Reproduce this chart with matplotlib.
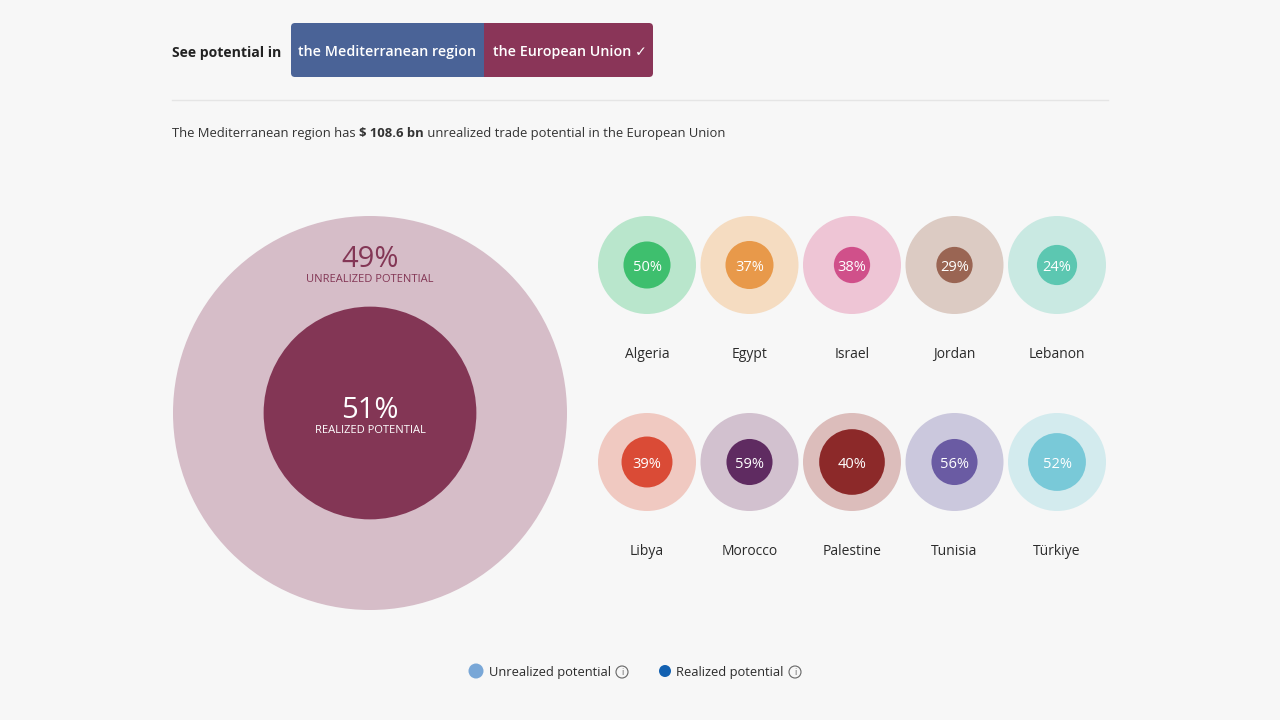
import matplotlib
matplotlib.use("Agg")
import matplotlib.pyplot as plt
from matplotlib.patches import Circle, FancyBboxPatch, Rectangle

plt.rcParams['font.family'] = ['Open Sans', 'DejaVu Sans']

# ---- data ----
total_unrealized_bn = 108.6
overall_unrealized_pct = 49
overall_realized_pct = 51
overall_realized_scale = 0.54

countries = ["Algeria", "Egypt", "Israel", "Jordan", "Lebanon",
             "Libya", "Morocco", "Palestine", "Tunisia", "Türkiye"]
realized_pct = [50, 37, 38, 29, 24, 39, 59, 40, 56, 52]
# relative size of realized circle vs. total circle (radius ratio)
realized_scale = [0.48, 0.49, 0.37, 0.37, 0.41, 0.52, 0.47, 0.67, 0.47, 0.59]
outer_colors = ["#b9e6cc", "#f5dcc1", "#eec5d5", "#dccbc3", "#c9e9e2",
                "#f0c9c1", "#d2c1cf", "#dcbdbb", "#cbc8dd", "#d3ebee"]
inner_colors = ["#3ebf6e", "#e8994a", "#d0508a", "#9a6553", "#5cc7b1",
                "#da4b36", "#5f2b61", "#8c2929", "#6a5ba3", "#79c9d8"]

BG = "#f7f7f7"
TXT = "#2b2b2b"
fig = plt.figure(figsize=(12.8, 7.2), dpi=100, facecolor=BG)
ax = fig.add_axes([0, 0, 1, 1])
ax.set_xlim(0, 1280)
ax.set_ylim(720, 0)
ax.axis("off")
ax.set_facecolor(BG)

# ---- header ----
ax.text(172, 57, "See potential in", fontsize=10.1, fontweight="bold",
        color="#222222", va="baseline", ha="left")
ax.add_patch(FancyBboxPatch((291, 23), 193, 54, boxstyle="round,pad=0,rounding_size=4",
                            fc="#4a6397", ec="none"))
ax.add_patch(FancyBboxPatch((484, 23), 169, 54, boxstyle="round,pad=0,rounding_size=4",
                            fc="#8a3558", ec="none"))
ax.add_patch(Rectangle((480, 23), 8, 54, fc="#4a6397", ec="none"))
ax.add_patch(Rectangle((484, 23), 4, 54, fc="#8a3558", ec="none"))
ax.text(387, 56, "the Mediterranean region", fontsize=10.3, color="white",
        ha="center", va="baseline", fontweight="semibold")
ax.text(493, 56, "the European Union \u2713", fontsize=10.3, color="white",
        ha="left", va="baseline", fontweight="semibold")
ax.plot([172, 1108], [100, 100], color="#e5e5e5", lw=1)

# ---- subtitle with bold part ----
fig.canvas.draw()
renderer = fig.canvas.get_renderer()
pieces = [("The Mediterranean region has ", "normal"),
          (f"$ {total_unrealized_bn} bn", "bold"),
          (" unrealized trade potential in the European Union", "normal")]
x = 172
for s, w in pieces:
    t = ax.text(x, 137, s, fontsize=9.4, fontweight=w, color="#333333",
                ha="left", va="baseline")
    bb = t.get_window_extent(renderer=renderer)
    x += bb.width  # 1 data unit == 1 pixel

# ---- big circle ----
bx, by, br = 370, 413, 197
ax.add_patch(Circle((bx, by), br, fc="#d6bdc8", ec="none"))
ax.add_patch(Circle((bx, by), br * overall_realized_scale, fc="#833655", ec="none"))
ax.text(bx, 267, f"{overall_unrealized_pct}%", fontsize=21, color="#833655",
        ha="center", va="baseline")
ax.text(bx, 282, "UNREALIZED POTENTIAL", fontsize=8, color="#833655",
        ha="center", va="baseline")
ax.text(bx, 418, f"{overall_realized_pct}%", fontsize=21, color="white",
        ha="center", va="baseline")
ax.text(bx, 433, "REALIZED POTENTIAL", fontsize=8, color="white",
        ha="center", va="baseline")

# ---- small circles ----
r_small = 49
for i, name in enumerate(countries):
    col, row = i % 5, i // 5
    cx = 647 + col * 102.5
    cy = 265 + row * 197
    ax.add_patch(Circle((cx, cy), r_small, fc=outer_colors[i], ec="none"))
    ax.add_patch(Circle((cx, cy), r_small * realized_scale[i], fc=inner_colors[i], ec="none"))
    ax.text(cx, cy + 6, f"{realized_pct[i]}%", fontsize=10.5, color="white",
            ha="center", va="baseline")
    ax.text(cx, cy + 93, name, fontsize=10, color=TXT,
            ha="center", va="baseline")

# ---- legend ----
def info_icon(x, y):
    ax.add_patch(Circle((x, y), 6, fc="none", ec="#666666", lw=0.8))
    ax.text(x, y + 0.5, "i", fontsize=6.5, color="#666666", ha="center", va="center")

ax.add_patch(Circle((476, 671), 7.5, fc="#79a7d7", ec="none"))
ax.text(489, 676, "Unrealized potential", fontsize=9.3, color=TXT,
        ha="left", va="baseline")
info_icon(622, 672)
ax.add_patch(Circle((665, 671), 6, fc="#1361b1", ec="none"))
ax.text(676, 676, "Realized potential", fontsize=9.3, color=TXT,
        ha="left", va="baseline")
info_icon(795, 672)

fig.savefig("out.png", dpi=100, facecolor=BG)
